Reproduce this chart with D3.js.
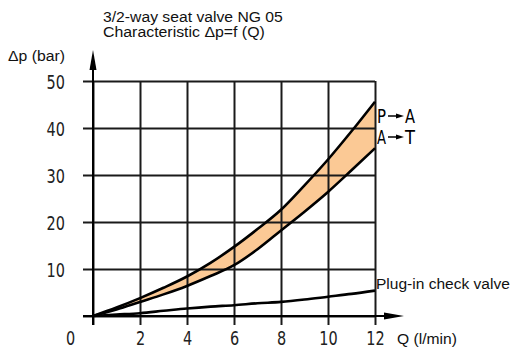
<!DOCTYPE html>
<html>
<head>
<meta charset="utf-8">
<script src="https://cdn.jsdelivr.net/npm/d3@7"></script>
<style>
  body { margin: 0; background: #fff; }
  svg { display: block; }
  .narrow { font-family: "DejaVu Sans", sans-serif; }
  .plain { font-family: "Liberation Sans", Arial, sans-serif; }
</style>
</head>
<body>
<div id="chart"></div>
<script>
// flow Q (l/min)
const flow = [0, 1, 2, 3, 4, 5, 6, 7, 8, 9, 10, 11, 12];
// pressure drop (bar)
const pToA = [0, 1.8, 3.8, 6.0, 8.4, 11.3, 14.7, 18.5, 22.6, 27.8, 33.3, 39.3, 45.6];
const aToT = [0, 1.4, 3.0, 4.6, 6.4, 8.5, 10.8, 14.2, 18.2, 22.2, 26.4, 31.0, 35.7];
const checkValve = [0, 0.3, 0.6, 1.1, 1.6, 2.0, 2.3, 2.7, 3.0, 3.5, 4.1, 4.7, 5.4];

const xTicks = [0, 2, 4, 6, 8, 10, 12];
const yTicks = [0, 10, 20, 30, 40, 50];

const svg = d3.select('#chart')
    .append('svg')
    .attr('width', 512)
    .attr('height', 349);

const x = d3.scaleLinear().domain([0, 12]).range([93, 375]);
const y = d3.scaleLinear().domain([0, 50]).range([316, 81]);

// band between the two valve curves
const band = flow.map((q, i) => ({ q, hi: pToA[i], lo: aToT[i] }));
svg.append('path')
    .datum(band)
    .attr('fill', '#fbc995')
    .attr('d', d3.area()
        .x(d => x(d.q))
        .y0(d => y(d.lo))
        .y1(d => y(d.hi))
        .curve(d3.curveMonotoneX));

// grid via axes
const yAxis = svg.append('g')
    .attr('transform', `translate(${x(12)},0)`)
    .call(d3.axisLeft(y).tickValues(yTicks).tickSize(x(12) - 83).tickPadding(18)
        .tickFormat(d => d === 0 ? '' : d));

const xAxis = svg.append('g')
    .attr('transform', `translate(0,${y(50)})`)
    .call(d3.axisBottom(x).tickValues(xTicks).tickSize(325 - y(50)).tickPadding(6));

// squeeze the tick digits to look like the narrow drawing font
function squeeze() {
    const s = this.textContent;
    if (s.length) {
        d3.select(this).attr('textLength', s.length * 9.2).attr('lengthAdjust', 'spacingAndGlyphs');
    }
}

[xAxis, yAxis].forEach(g => {
    g.select('.domain').remove();
    g.selectAll('line').attr('stroke', '#1a1a1a').attr('stroke-width', 2);
    g.selectAll('text')
        .attr('class', 'narrow')
        .attr('font-size', 20)
        .attr('fill', '#222')
        .each(squeeze);
});
yAxis.selectAll('text').attr('dy', '0.36em');
xAxis.selectAll('text').attr('dy', '0.68em');
xAxis.selectAll('.tick').filter(d => d === 0).select('text').attr('dx', -23);

// axis arrows
svg.append('line')
    .attr('x1', x(0)).attr('x2', x(0))
    .attr('y1', 325).attr('y2', 66)
    .attr('stroke', '#000').attr('stroke-width', 2);
svg.append('path')
    .attr('d', `M${x(0)},50 L${x(0) - 3.5},70 L${x(0) + 3.5},70 Z`)
    .attr('fill', '#000');
svg.append('line')
    .attr('x1', 83).attr('x2', 390)
    .attr('y1', y(0)).attr('y2', y(0))
    .attr('stroke', '#000').attr('stroke-width', 2);
svg.append('path')
    .attr('d', `M404,${y(0)} L384,${y(0) - 3.5} L384,${y(0) + 3.5} Z`)
    .attr('fill', '#000');

// curves
const line = d3.line().x((d, i) => x(flow[i])).y(d => y(d)).curve(d3.curveMonotoneX);
[pToA, aToT, checkValve].forEach(s => {
    svg.append('path')
        .datum(s)
        .attr('fill', 'none')
        .attr('stroke', '#000')
        .attr('stroke-width', 2.6)
        .attr('d', line);
});

// curve labels with little arrows
function arrowLabel(a, b, base) {
    const cy = base - 7;
    svg.append('text').attr('class', 'narrow').attr('font-size', 19)
        .attr('x', 377).attr('y', base).attr('textLength', 9).attr('lengthAdjust', 'spacingAndGlyphs').text(a);
    svg.append('line').attr('x1', 388).attr('x2', 398)
        .attr('y1', cy).attr('y2', cy).attr('stroke', '#000').attr('stroke-width', 1.5);
    svg.append('path').attr('d', `M404,${cy} L396,${cy - 2.5} L396,${cy + 2.5} Z`).attr('fill', '#000');
    svg.append('text').attr('class', 'narrow').attr('font-size', 19)
        .attr('x', 405).attr('y', base).attr('textLength', 10).attr('lengthAdjust', 'spacingAndGlyphs').text(b);
}
arrowLabel('P', 'A', 123);
arrowLabel('A', 'T', 144);

// texts, stretched horizontally to the widths measured on the reference
const txt = (t, px, py, w) => {
    const el = svg.append('text')
        .attr('class', 'plain')
        .attr('font-size', 14.5)
        .attr('fill', '#111')
        .text(t);
    const len = el.node().getComputedTextLength() || w;
    el.attr('transform', `translate(${px},${py}) scale(${w / len},1)`);
};

txt('3/2-way seat valve NG 05', 103, 22, 180);
txt('Characteristic \u0394p=f (Q)', 103, 37, 162);
txt('\u0394p (bar)', 8, 61, 57);
txt('Q (l/min)', 397, 344, 60);
txt('Plug-in check valve', 376, 289, 134);
</script>
</body>
</html>
